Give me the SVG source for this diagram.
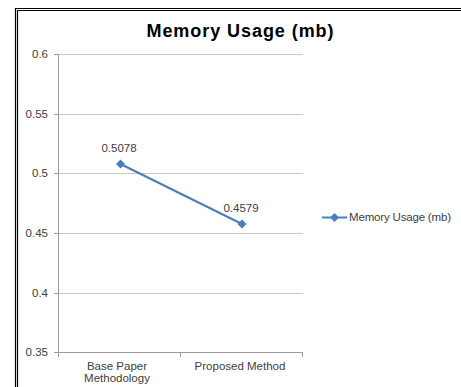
<svg xmlns="http://www.w3.org/2000/svg" width="461" height="387" viewBox="0 0 461 387">
<style>
.frame{stroke:#000;stroke-width:1.2;fill:none}
.grid{stroke:#c8c8c8;stroke-width:1;fill:none}
.axis{stroke:#9a9a9a;stroke-width:1;fill:none}
.lbl{font-family:"Liberation Sans",Arial,sans-serif;font-size:11.5px;fill:#404040}
.title{font-family:"Liberation Sans",Arial,sans-serif;font-size:18px;font-weight:bold;fill:#000}
.series{stroke:#4a7ebb;stroke-width:2;fill:none}
.mk{fill:#4a7ebb}
</style>
<defs>
<path id="dia" d="M0,-4.5 L4.5,0 L0,4.5 L-4.5,0 Z" class="mk"/>
</defs>
<rect width="461" height="387" fill="#fff"/>
<g id="frame">
<path class="frame" d="M15.5,387 V8.5 H461"/>
<path class="frame" d="M17.5,387 V10.5 H461"/>
</g>
<g id="title"><text class="title" x="240" y="37" text-anchor="middle" textLength="187">Memory Usage (mb)</text></g>
<g id="gridlines">
<line class="grid" x1="58" y1="54.5" x2="303" y2="54.5"/>
<line class="grid" x1="58" y1="114.5" x2="303" y2="114.5"/>
<line class="grid" x1="58" y1="173.5" x2="303" y2="173.5"/>
<line class="grid" x1="58" y1="233.5" x2="303" y2="233.5"/>
<line class="grid" x1="58" y1="293.5" x2="303" y2="293.5"/>
</g>
<g id="axes">
<line class="axis" x1="58.5" y1="54" x2="58.5" y2="357"/>
<line class="axis" x1="58" y1="352.5" x2="303" y2="352.5"/>
<line class="axis" x1="180.5" y1="352" x2="180.5" y2="357"/>
<line class="axis" x1="302.5" y1="352" x2="302.5" y2="357"/>
<line class="axis" x1="54" y1="54.5" x2="58" y2="54.5"/>
<line class="axis" x1="54" y1="114.5" x2="58" y2="114.5"/>
<line class="axis" x1="54" y1="173.5" x2="58" y2="173.5"/>
<line class="axis" x1="54" y1="233.5" x2="58" y2="233.5"/>
<line class="axis" x1="54" y1="293.5" x2="58" y2="293.5"/>
<line class="axis" x1="54" y1="352.5" x2="58" y2="352.5"/>
</g>
<g id="y-labels" text-anchor="end">
<text class="lbl" x="48" y="58">0.6</text>
<text class="lbl" x="48" y="118">0.55</text>
<text class="lbl" x="48" y="177">0.5</text>
<text class="lbl" x="48" y="237">0.45</text>
<text class="lbl" x="48" y="297">0.4</text>
<text class="lbl" x="48" y="356">0.35</text>
</g>
<g id="x-labels" text-anchor="middle">
<text class="lbl" x="117" y="370">Base Paper</text>
<text class="lbl" x="117" y="382">Methodology</text>
<text class="lbl" x="240" y="370">Proposed Method</text>
</g>
<g id="series">
<polyline class="series" points="120.5,164 242,224"/>
<use href="#dia" x="120.5" y="164"/>
<use href="#dia" x="242" y="224"/>
</g>
<g id="data-labels" text-anchor="middle">
<text class="lbl" x="119" y="152">0.5078</text>
<text class="lbl" x="241" y="212">0.4579</text>
</g>
<g id="legend">
<line class="series" x1="322" y1="217.5" x2="347" y2="217.5"/>
<use href="#dia" x="334.5" y="217.5"/>
<text class="lbl" x="349" y="221" textLength="102">Memory Usage (mb)</text>
</g>
</svg>
